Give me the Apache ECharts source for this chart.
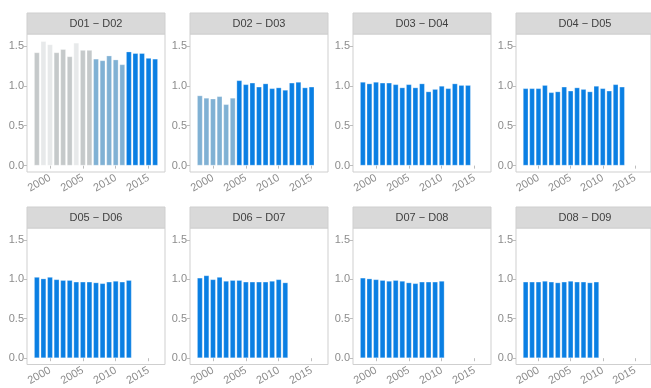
<!DOCTYPE html>
<html>
<head>
<meta charset="utf-8">
<script src="https://cdn.jsdelivr.net/npm/echarts@6/dist/echarts.min.js"></script>
<style>
  html, body { margin: 0; padding: 0; background: #ffffff; }
  #chart { width: 651px; height: 388px; }
</style>
</head>
<body>
<div id="chart"></div>
<script>
// Year domain of the shared x axis (one slot per year, outer years left empty)
const years = [1997, 1998, 1999, 2000, 2001, 2002, 2003, 2004, 2005, 2006, 2007,
               2008, 2009, 2010, 2011, 2012, 2013, 2014, 2015, 2016, 2017];
const yearTicks = [2000, 2005, 2010, 2015];
const valueTicks = [0, 0.5, 1.0, 1.5];
const firstYear = 1998;

// Panel titles
const panelNames = ['D01 − D02', 'D02 − D03', 'D03 − D04', 'D04 − D05',
                    'D05 − D06', 'D06 − D07', 'D07 − D08', 'D08 − D09'];

// Ratio values per panel, starting at 1998
const d01 = [1.42, 1.56, 1.52, 1.42, 1.46, 1.37, 1.54, 1.45, 1.45, 1.34,
             1.32, 1.38, 1.33, 1.27, 1.43, 1.41, 1.41, 1.35, 1.34];
const d02 = [0.88, 0.85, 0.84, 0.87, 0.77, 0.85, 1.07, 1.02, 1.04, 0.99,
             1.03, 0.97, 0.98, 0.95, 1.04, 1.05, 0.98, 0.99];
const d03 = [1.05, 1.03, 1.05, 1.04, 1.04, 1.02, 0.98, 1.02, 0.98, 1.03,
             0.93, 0.96, 1.00, 0.97, 1.03, 1.01, 1.01];
const d04 = [0.97, 0.97, 0.97, 1.01, 0.92, 0.93, 0.99, 0.94, 0.98, 0.96,
             0.93, 1.00, 0.97, 0.94, 1.02, 0.99];
const d05 = [1.03, 1.01, 1.03, 1.00, 0.99, 0.99, 0.97, 0.97, 0.97, 0.96,
             0.95, 0.97, 0.98, 0.97, 0.99];
const d06 = [1.02, 1.05, 1.00, 1.03, 0.98, 0.99, 0.99, 0.97, 0.97, 0.97,
             0.97, 0.98, 1.00, 0.96];
const d07 = [1.02, 1.01, 1.00, 0.99, 0.98, 0.99, 0.98, 0.96, 0.95, 0.97,
             0.97, 0.97, 0.98];
const d08 = [0.97, 0.97, 0.97, 0.98, 0.97, 0.96, 0.97, 0.98, 0.97, 0.97,
             0.96, 0.97];

// Status group of each bar (g = grey, w = pale, l = light blue, b = blue)
const d01Groups = ['g', 'w', 'w', 'g', 'g', 'g', 'w', 'g', 'g', 'l',
                   'l', 'l', 'l', 'l', 'b', 'b', 'b', 'b', 'b'];
const d02Groups = ['l', 'l', 'l', 'l', 'l', 'l', 'b', 'b', 'b', 'b',
                   'b', 'b', 'b', 'b', 'b', 'b', 'b', 'b'];

const panelValues = [d01, d02, d03, d04, d05, d06, d07, d08];
const panelGroups = [d01Groups, d02Groups, null, null, null, null, null, null];

const groupColors = {
  g: '#c5c9ca',
  w: '#e7e9ea',
  l: '#80b1d4',
  b: '#0a7fe3'
};

// Facet layout
const colLeft = [27, 190, 353, 516];
const rowHeaderTop = [13, 207];
const headerH = 21;
const panelW = 138;
const panelH = 138;
const fontFamily = '"Liberation Sans", Arial, sans-serif';

const grids = [], xAxes = [], yAxes = [], series = [], graphics = [];

panelValues.forEach((vals, p) => {
  const col = p % 4, row = Math.floor(p / 4);
  const left = colLeft[col];
  const top = rowHeaderTop[row] + headerH;

  grids.push({
    left: left, top: top, width: panelW, height: panelH,
    show: true, backgroundColor: '#ffffff',
    borderColor: '#cfcfcf', borderWidth: 1
  });

  xAxes.push({
    type: 'category', gridIndex: p, data: years.map(String),
    boundaryGap: true,
    axisLine: { show: false },
    axisTick: {
      show: true, alignWithLabel: true, length: 3,
      interval: (i, v) => yearTicks.includes(Number(v)),
      lineStyle: { color: '#bdbdbd' }
    },
    axisLabel: {
      interval: (i, v) => yearTicks.includes(Number(v)),
      rotate: 30, margin: 5,
      color: '#8c8c8c', fontSize: 11, fontFamily: fontFamily
    },
    splitLine: { show: false }
  });

  yAxes.push({
    type: 'value', gridIndex: p, min: -0.08, max: 1.65,
    axisLine: { show: false },
    axisTick: {
      show: true, length: 3, customValues: valueTicks,
      lineStyle: { color: '#bdbdbd' }
    },
    axisLabel: {
      customValues: valueTicks, margin: 3,
      formatter: v => v.toFixed(1),
      color: '#8c8c8c', fontSize: 11, fontFamily: fontFamily
    },
    splitLine: { show: false }
  });

  const groups = panelGroups[p];
  const data = years.map(y => {
    const k = y - firstYear;
    if (k < 0 || k >= vals.length) return null;
    const g = groups ? groups[k] : 'b';
    return {
      value: vals[k],
      itemStyle: {
        color: groupColors[g],
        borderColor: 'rgba(255,255,255,0.35)',
        borderWidth: 0.8
      }
    };
  });

  series.push({
    type: 'bar', xAxisIndex: p, yAxisIndex: p,
    data: data, barCategoryGap: '14%',
    silent: true, animation: false
  });

  // Strip header above each panel
  graphics.push({
    type: 'rect',
    shape: { x: left, y: rowHeaderTop[row], width: panelW, height: headerH },
    style: { fill: '#d9d9d9', stroke: '#cfcfcf', lineWidth: 1 },
    silent: true
  });
  graphics.push({
    type: 'text',
    x: left + panelW / 2, y: rowHeaderTop[row] + headerH / 2,
    style: {
      text: panelNames[p], fill: '#3f3f3f', fontSize: 11,
      fontFamily: fontFamily, align: 'center', verticalAlign: 'middle'
    },
    silent: true
  });
});

const chart = echarts.init(document.getElementById('chart'), null, { renderer: 'canvas' });
chart.setOption({
  animation: false,
  backgroundColor: '#ffffff',
  grid: grids,
  xAxis: xAxes,
  yAxis: yAxes,
  series: series,
  graphic: graphics
});
</script>
</body>
</html>
